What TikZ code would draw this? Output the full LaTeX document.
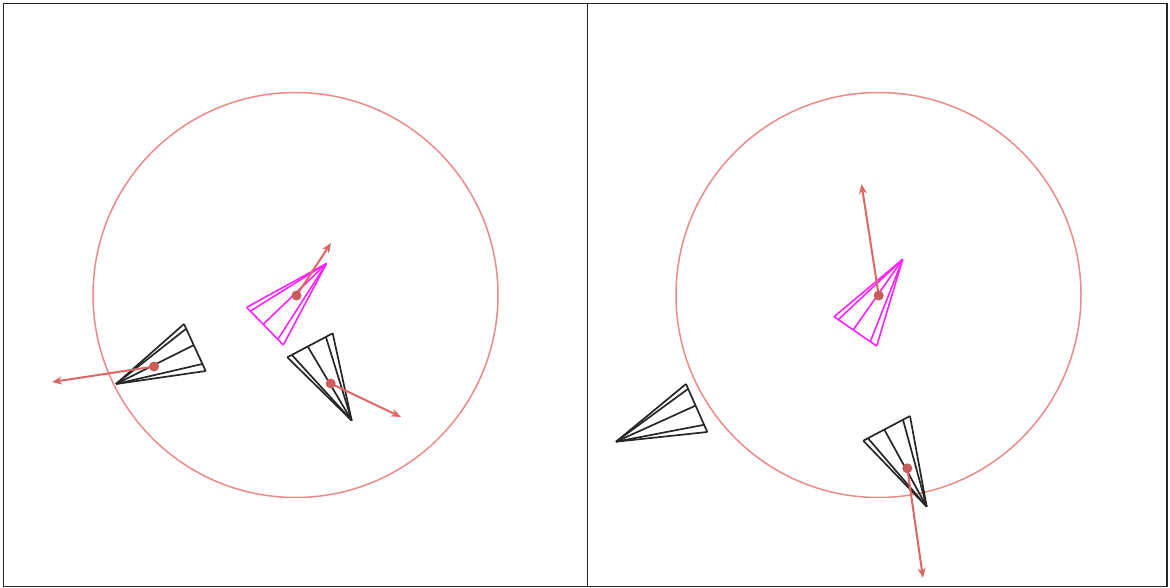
\documentclass[tikz,border=0pt]{standalone}
\usetikzlibrary{calc,arrows.meta}
\definecolor{ringred}{HTML}{EC8A8A}
\definecolor{arrred}{HTML}{E06666}
\definecolor{fanmag}{HTML}{FF22FF}
\tikzset{
  frameline/.style={draw=black!85, line width=1.5pt},
  ring/.style={draw=ringred, line width=1.5pt},
  blackfan/.style={draw=black!85, line width=1.7pt, line join=round},
  magfan/.style={draw=fanmag, line width=1.6pt, line join=round},
  velarrow/.style={draw=arrred, line width=2pt, -{Stealth[length=10pt,width=8pt]}},
  posdot/.style={fill=arrred!90!black},
}
\newcommand{\fancone}[4]{%
  \draw[#4] (#2) -- (#3);
  \foreach \f in {0,0.1,0.45,0.85,1} \draw[#4] (#1) -- ($(#2)!\f!(#3)$);
}
\begin{document}
\begin{tikzpicture}[x=1pt,y=-1pt]
\useasboundingbox (0,0) rectangle (1170,588);
% frame
\draw[frameline] (3.5,3.5) rectangle (1167,586.5);
\draw[frameline] (587.5,3.5) -- (587.5,586.5);
% rings
\draw[ring] (295.5,295) circle (202.5);
\draw[ring] (878.5,295) circle (202.5);
% left panel cones
\fancone{326.5,263.5}{246.7,307.3}{283.3,345}{magfan}
\fancone{116,384}{184,324}{205.7,371}{blackfan}
\fancone{351.7,420.5}{287.3,357.3}{332.7,333.3}{blackfan}
% right panel cones
\fancone{902.7,259.3}{834,316.7}{876.7,346}{magfan}
\fancone{616,441.7}{686,384}{707.3,432}{blackfan}
\fancone{926.7,506.7}{863.3,440.7}{910,416}{blackfan}
% positions and velocity arrows
\coordinate (pm1) at (296.5,295.5);  \coordinate (vm1) at (331,243);
\coordinate (pa)  at (154,366.5);    \coordinate (va)  at (52,382);
\coordinate (pb)  at (330.7,383.5);  \coordinate (vb)  at (401,417);
\coordinate (pm2) at (878.7,295.5);  \coordinate (vm2) at (861.5,184);
\coordinate (pd)  at (907.3,468.3);  \coordinate (vd)  at (923,578);
\foreach \p/\v in {pm1/vm1,pa/va,pb/vb,pm2/vm2,pd/vd}{
  \draw[velarrow] (\p) -- (\v);
  \fill[posdot] (\p) circle (5);
}
\end{tikzpicture}
\end{document}
